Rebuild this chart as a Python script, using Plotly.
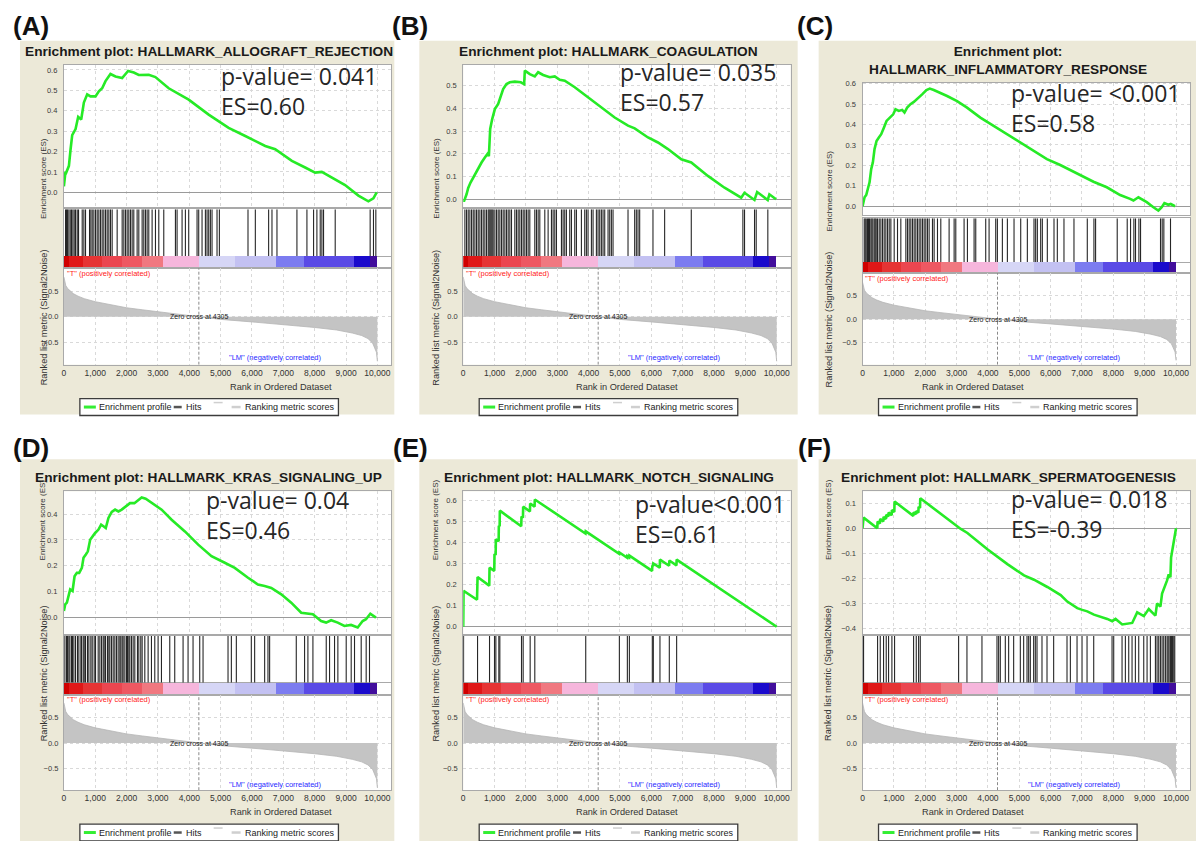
import plotly.graph_objects as go

# ---------------- data ----------------
# shared ranked-list metric (rank, Signal2Noise)
RANK_X = [0, 20, 60, 120, 200, 300, 450, 650, 1000, 1500, 2000, 2500, 3000, 3500, 4000,
          4305, 5000, 6000, 7000, 8000, 8700, 9000, 9200, 9500, 9700, 9850, 9930, 9970, 10000]
RANK_Y = [0.79, 0.70, 0.62, 0.56, 0.51, 0.46, 0.41, 0.36, 0.30, 0.24, 0.18, 0.14, 0.10, 0.065, 0.03,
          0.0, -0.05, -0.10, -0.15, -0.21, -0.26, -0.29, -0.32, -0.37, -0.43, -0.52, -0.62, -0.70, -0.88]
ZERO_CROSS = 4305

# colour band under the hits
BAR_EDGES = [0, 150, 600, 1200, 1850, 2500, 3150, 4300, 5450, 6750, 7650, 9250, 9750, 10000]
BAR_COLORS = ["#D00000", "#E01818", "#E63434", "#EB4650", "#EE5862", "#F07880",
              "#F6B6DC", "#D6D6F6", "#C3C1F2", "#7C7CF0", "#5A4AE6", "#1A0ACC", "#420E9C"]

X_TICKS = [0, 1000, 2000, 3000, 4000, 5000, 6000, 7000, 8000, 9000, 10000]
RANK_TICKS = [-0.5, 0.0, 0.5]

PANEL_LABELS = ["(A)", "(B)", "(C)", "(D)", "(E)", "(F)"]
TITLES = ["Enrichment plot: HALLMARK_ALLOGRAFT_REJECTION",
          "Enrichment plot: HALLMARK_COAGULATION",
          "Enrichment plot:<br>HALLMARK_INFLAMMATORY_RESPONSE",
          "Enrichment plot: HALLMARK_KRAS_SIGNALING_UP",
          "Enrichment plot: HALLMARK_NOTCH_SIGNALING",
          "Enrichment plot: HALLMARK_SPERMATOGENESIS"]
P_TEXTS = ["p-value= 0.041", "p-value= 0.035", "p-value= <0.001",
           "p-value= 0.04", "p-value<0.001", "p-value= 0.018"]
ES_TEXTS = ["ES=0.60", "ES=0.57", "ES=0.58", "ES=0.46", "ES=0.61", "ES=-0.39"]
LEGEND_NAMES = ["Enrichment profile", "Hits", "Ranking metric scores"]

ES_A_X = [0, 50, 74, 160, 212, 265, 372, 456, 552, 637, 743, 849, 1008, 1115, 1221, 1327, 1486, 1645,
          1858, 2049, 2229, 2389, 2707, 2919, 3344, 3981, 4618, 5255, 5786, 6423, 6741, 7272, 7696,
          8015, 8227, 8546, 8970, 9395, 9713, 9873, 9979]
ES_A_Y = [0.03, 0.10, 0.097, 0.13, 0.21, 0.28, 0.31, 0.37, 0.357, 0.44, 0.48, 0.47, 0.47, 0.495, 0.51,
          0.545, 0.58, 0.568, 0.56, 0.595, 0.587, 0.575, 0.576, 0.565, 0.51, 0.454, 0.381, 0.316, 0.276,
          0.227, 0.211, 0.154, 0.122, 0.097, 0.10, 0.073, 0.036, -0.016, -0.044, -0.029, 0.0]
HITS_A = [53, 85, 117, 159, 202, 244, 287, 329, 372, 425, 467, 584, 637, 690, 818, 860, 903, 956, 1009,
          1062, 1115, 1168, 1221, 1274, 1328, 1381, 1434, 1487, 1540, 1699, 1859, 1912, 1965, 2018, 2071,
          2124, 2177, 2230, 2336, 2390, 2496, 2549, 2602, 2655, 2708, 2814, 2921, 3027, 3186, 3558, 3611,
          3770, 3876, 3982, 4248, 4301, 4407, 4514, 4567, 4620, 4673, 4726, 4885, 4960, 5873, 6107, 6531,
          6638, 6797, 7434, 7753, 7965, 8071, 8177, 8230, 8283, 8655, 9770, 9876, 9951]

ES_B_X = [0, 20, 106, 159, 233, 318, 393, 478, 584, 690, 775, 818, 860, 924, 1009, 1115, 1200, 1274,
          1380, 1487, 1646, 1837, 1943, 1965, 2124, 2283, 2390, 2549, 2761, 2920, 3080, 3239, 3558, 3982,
          4407, 4832, 5257, 5470, 5894, 6212, 6531, 6956, 7274, 7805, 8336, 8867, 8973, 9291, 9376, 9713,
          9766, 9979]
ES_B_Y = [0.0, -0.01, 0.022, 0.05, 0.074, 0.096, 0.118, 0.14, 0.162, 0.184, 0.2, 0.19, 0.31, 0.353,
          0.397, 0.42, 0.456, 0.485, 0.507, 0.515, 0.518, 0.515, 0.507, 0.566, 0.551, 0.541, 0.559, 0.547,
          0.537, 0.541, 0.526, 0.522, 0.493, 0.449, 0.404, 0.36, 0.324, 0.312, 0.272, 0.25, 0.221, 0.176,
          0.162, 0.103, 0.051, 0.007, 0.029, -0.003, 0.032, -0.003, 0.022, 0.0]
HITS_B = [53, 106, 159, 212, 266, 319, 372, 425, 478, 531, 584, 637, 690, 743, 797, 828, 860, 892, 924,
          956, 1009, 1062, 1115, 1168, 1221, 1274, 1328, 1381, 1434, 1487, 1540, 1646, 1699, 1752, 1805,
          1859, 1912, 1965, 2018, 2071, 2124, 2283, 2336, 2390, 2443, 2602, 2708, 2814, 2867, 2921, 2974,
          3133, 3186, 3239, 3292, 3398, 3452, 3558, 3611, 3770, 3876, 3929, 3982, 4089, 4142, 4248, 4301,
          4354, 4407, 4460, 4514, 4620, 4673, 4726, 4779, 5257, 5469, 5522, 5576, 5629, 6053, 6425, 7275,
          8921, 8974, 9293, 9346, 9717]

ES_C_X = [0, 11, 64, 117, 170, 223, 276, 329, 382, 446, 520, 595, 680, 765, 871, 977, 1051, 1157, 1264,
          1338, 1423, 1529, 1635, 1794, 1900, 2038, 2144, 2272, 2484, 2696, 3015, 3333, 3758, 4183, 4607,
          5032, 5456, 5881, 6306, 6518, 6943, 7367, 7792, 8217, 8535, 8641, 8800, 9066, 9278, 9437, 9544,
          9629, 9756, 9830, 9968]
ES_C_Y = [0.0, 0.011, 0.044, 0.055, 0.093, 0.117, 0.182, 0.215, 0.28, 0.32, 0.337, 0.353, 0.385, 0.418,
          0.434, 0.45, 0.475, 0.467, 0.472, 0.459, 0.483, 0.5, 0.511, 0.532, 0.548, 0.569, 0.576, 0.569,
          0.556, 0.54, 0.515, 0.483, 0.434, 0.393, 0.353, 0.312, 0.272, 0.231, 0.202, 0.185, 0.15, 0.12,
          0.093, 0.055, 0.036, 0.028, 0.044, 0.02, -0.005, -0.021, -0.005, 0.015, 0.007, 0.011, 0.0]
HITS_C = [53, 85, 117, 159, 191, 223, 266, 297, 329, 372, 404, 435, 478, 531, 584, 637, 690, 743, 797,
          850, 903, 1009, 1115, 1221, 1381, 1434, 1487, 1540, 1593, 1646, 1699, 1752, 1805, 1859, 1912,
          1965, 2018, 2071, 2124, 2230, 2283, 2390, 2496, 2761, 2921, 2974, 3239, 3345, 3558, 3611, 3929,
          4036, 4248, 4301, 4460, 4620, 4832, 5045, 5257, 5469, 5522, 5576, 5682, 5735, 5894, 6107, 6213,
          6425, 6744, 7169, 7381, 7434, 8124, 8443, 8549, 8655, 8708, 8815, 8868, 9505, 9558, 9611, 9824]

ES_D_X = [0, 42, 95, 148, 201, 276, 340, 414, 488, 573, 626, 700, 764, 838, 912, 997, 1103, 1188, 1262,
          1336, 1421, 1527, 1633, 1739, 1845, 1972, 2110, 2248, 2375, 2481, 2609, 2800, 3118, 3436, 3860,
          4284, 4708, 5132, 5450, 5874, 6192, 6404, 6616, 6934, 7252, 7570, 7782, 7941, 8206, 8365, 8524,
          8736, 8948, 9160, 9372, 9531, 9637, 9775, 9955]
ES_D_Y = [0.026, 0.051, 0.058, 0.09, 0.109, 0.103, 0.16, 0.173, 0.173, 0.192, 0.231, 0.244, 0.256,
          0.301, 0.314, 0.327, 0.34, 0.359, 0.353, 0.346, 0.385, 0.408, 0.417, 0.41, 0.417, 0.429, 0.442,
          0.442, 0.455, 0.464, 0.459, 0.442, 0.417, 0.378, 0.333, 0.282, 0.237, 0.212, 0.192, 0.154, 0.128,
          0.122, 0.115, 0.09, 0.058, 0.019, 0.015, 0.013, -0.013, -0.019, -0.01, -0.019, -0.032, -0.028,
          -0.038, -0.013, -0.006, 0.015, 0.0]
HITS_D = [32, 85, 117, 159, 191, 244, 276, 319, 372, 435, 478, 542, 563, 616, 648, 690, 754, 797, 860,
          903, 966, 1009, 1094, 1147, 1200, 1253, 1285, 1328, 1391, 1434, 1466, 1519, 1572, 1625, 1678,
          1731, 1784, 1816, 1859, 1890, 1944, 1997, 2028, 2071, 2103, 2156, 2209, 2262, 2347, 2390, 2453,
          2496, 2581, 2687, 2793, 2899, 3005, 3112, 3377, 3536, 3802, 3961, 4120, 4333, 4439, 5236, 5342,
          5501, 5979, 6085, 6404, 6510, 6563, 7413, 7678, 7784, 7944, 8369, 8475, 8634, 8740, 9006, 9165,
          9271, 9484, 9643, 9749]

ES_E_X = [0, 11, 440, 457, 830, 839, 990, 998, 1035, 1041, 1130, 1136, 1162, 1168, 1850, 1859, 1905,
          1912, 2128, 2135, 2276, 2283, 3900, 3908, 4975, 4981, 5230, 5236, 5294, 5300, 6025, 6032, 6058,
          6064, 6270, 6276, 6568, 6574, 6802, 6808, 10000]
ES_E_Y = [0.0, 0.17, 0.128, 0.236, 0.195, 0.28, 0.265, 0.345, 0.34, 0.414, 0.405, 0.479, 0.476, 0.55,
          0.476, 0.522, 0.517, 0.569, 0.546, 0.584, 0.569, 0.603, 0.442, 0.452, 0.346, 0.352, 0.327, 0.335,
          0.329, 0.337, 0.265, 0.29, 0.287, 0.3, 0.28, 0.318, 0.289, 0.314, 0.291, 0.318, 0.0]
HITS_E = [11, 457, 839, 998, 1041, 1136, 1168, 1859, 1912, 2135, 2283, 3908, 4981, 5236, 5300, 6032,
          6064, 6276, 6574, 6808]

ES_F_X = [0, 32, 470, 479, 555, 564, 662, 670, 747, 755, 822, 830, 928, 936, 1013, 1021, 1620, 1628,
          1705, 1713, 1780, 1788, 1833, 1841, 3133, 3345, 3982, 4620, 5151, 5469, 5894, 6319, 6531, 6850,
          7009, 7168, 7381, 7593, 7806, 7965, 8071, 8284, 8443, 8602, 8761, 8973, 9130, 9342, 9395, 9502,
          9555, 9661, 9714, 9766, 9821, 9842, 9895, 9948, 10000]
ES_F_Y = [0.0, 0.042, 0.0, 0.026, 0.019, 0.037, 0.027, 0.045, 0.037, 0.053, 0.047, 0.062, 0.052, 0.072,
          0.065, 0.106, 0.049, 0.063, 0.056, 0.068, 0.062, 0.085, 0.081, 0.119, -0.003, -0.019, -0.084,
          -0.143, -0.188, -0.205, -0.234, -0.266, -0.292, -0.318, -0.325, -0.331, -0.344, -0.351, -0.361,
          -0.37, -0.361, -0.383, -0.379, -0.377, -0.335, -0.35, -0.322, -0.348, -0.299, -0.312, -0.26,
          -0.227, -0.208, -0.184, -0.195, -0.117, -0.078, -0.032, 0.0]
HITS_F = [32, 479, 564, 670, 755, 830, 936, 1021, 1628, 1713, 1788, 1841, 3064, 3330, 3809, 4288, 4341,
          4394, 4554, 4660, 4820, 5033, 5139, 5246, 5299, 5352, 5458, 5511, 5565, 5724, 5884, 6096, 6522,
          6629, 6842, 7001, 7161, 7374, 7959, 8012, 8278, 8384, 8491, 8597, 8703, 8810, 8970, 9076, 9182,
          9342, 9395, 9448, 9502, 9555, 9608, 9661, 9714, 9746, 9778, 9821, 9853, 9885, 9927, 9959]

ES_XS = [ES_A_X, ES_B_X, ES_C_X, ES_D_X, ES_E_X, ES_F_X]
ES_YS = [ES_A_Y, ES_B_Y, ES_C_Y, ES_D_Y, ES_E_Y, ES_F_Y]
HITS = [HITS_A, HITS_B, HITS_C, HITS_D, HITS_E, HITS_F]

# ---------------- layout (pixels) ----------------
W, H = 1198, 841
XMAX = 10446
COL_L = [62, 462, 862]
COL_R = [390, 790, 1190]
BEIGE_X = [(18, 393), (418, 797), (818, 1196)]
LABEL_X = [29, 409, 814]
TITLE_X = [207, 608, 1008]

ROW0 = dict(label_y=23, title_y=49, beige=(38, 413), es=(62, 205), hits=(207, 254, 266), rank=(266, 363),
            rank_range=(-0.947, 0.966), yshift=3)
ROW1 = dict(label_y=447, title_y=476, beige=(458, 860), es=(490, 633), hits=(635, 682, 694), rank=(694, 790),
            rank_range=(-0.927, 0.955), yshift=0)
GEOM = [
    dict(ROW0, col=0, es_range=(-0.073, 0.625), txt=(4970, 0.537, 0.43)),
    dict(ROW0, col=1, es_range=(-0.035, 0.592), txt=(4968, 0.526, 0.434)),
    dict(ROW0, col=2, title_y=57.5, es=(80, 213), hits=(216, 260, 271), rank=(271, 363),
         rank_range=(-0.97, 0.985), es_range=(-0.044, 0.605), txt=(4713, 0.507, 0.424)),
    dict(ROW1, col=0, es_range=(-0.062, 0.488), txt=(4490, 0.438, 0.354)),
    dict(ROW1, col=1, es_range=(-0.033, 0.642), txt=(5446, 0.558, 0.46)),
    dict(ROW1, col=2, es_range=(-0.42, 0.147), txt=(4713, 0.098, 0.016)),
]

SANS = "Liberation Sans, Arial, sans-serif"
FRAME = dict(showline=True, mirror=True, linecolor="#A9A9A9", linewidth=1)
GRID = dict(showgrid=True, gridcolor="#D9D9D9", griddash="dot", gridwidth=1)


def aid(k):
    return "" if k == 1 else str(k)


def pxx(x):
    return x / W


def pyy(y):
    return 1 - y / H


fig = go.Figure()
axes = {}
annotations = []
shapes = []

for i, g in enumerate(GEOM):
    c = g["col"]
    L, R = COL_L[c], COL_R[c]
    xd = [pxx(L), pxx(R)]
    ke, kh, kr = 3 * i + 1, 3 * i + 2, 3 * i + 3
    es_top, es_bot = g["es"]
    hit_top, bar_top, bar_bot = g["hits"]
    rk_top, rk_bot = g["rank"]
    b = (bar_bot - bar_top) / (bar_top - hit_top)

    # backgrounds
    bx0, bx1 = BEIGE_X[c]
    shapes.append(dict(type="rect", xref="paper", yref="paper", layer="below",
                       x0=pxx(bx0), x1=pxx(bx1), y0=pyy(g["beige"][1]), y1=pyy(g["beige"][0]),
                       fillcolor="#ECE9D8", line=dict(width=0)))
    shapes.append(dict(type="rect", xref="paper", yref="paper", layer="below",
                       x0=pxx(L), x1=pxx(R), y0=pyy(rk_bot), y1=pyy(es_top),
                       fillcolor="white", line=dict(width=0)))

    # axes
    axes["xaxis" + aid(ke)] = dict(domain=xd, range=[0, XMAX], anchor="y" + aid(ke), showticklabels=False,
                                   ticks="", tick0=0, dtick=1000, zeroline=False, **GRID, **FRAME)
    axes["yaxis" + aid(ke)] = dict(domain=[pyy(es_bot), pyy(es_top)], range=list(g["es_range"]),
                                   anchor="x" + aid(ke), tick0=0, dtick=0.1, tickformat=".1f",
                                   tickfont=dict(size=7.5, color="#3a3a3a", family=SANS),
                                   ticks="outside", ticklen=4, tickcolor="rgba(0,0,0,0)",
                                   zeroline=True, zerolinecolor="#9A9A9A", zerolinewidth=1, **GRID, **FRAME)
    axes["xaxis" + aid(kh)] = dict(domain=xd, range=[0, XMAX], anchor="y" + aid(kh), showticklabels=False,
                                   ticks="", showgrid=False, zeroline=False, **FRAME)
    axes["yaxis" + aid(kh)] = dict(domain=[pyy(bar_bot), pyy(hit_top)], range=[-b, 1], anchor="x" + aid(kh),
                                   showticklabels=False, ticks="", showgrid=False, zeroline=True,
                                   zerolinecolor="#A9A9A9", zerolinewidth=1, **FRAME)
    axes["xaxis" + aid(kr)] = dict(domain=xd, range=[0, XMAX], anchor="y" + aid(kr), tickvals=X_TICKS,
                                   tickformat=",d", tickfont=dict(size=8.5, color="#333", family=SANS),
                                   ticks="", zeroline=False, **GRID, **FRAME)
    axes["yaxis" + aid(kr)] = dict(domain=[pyy(rk_bot), pyy(rk_top)], range=list(g["rank_range"]),
                                   anchor="x" + aid(kr), tickvals=RANK_TICKS, tickformat=".1f",
                                   tickfont=dict(size=7.5, color="#3a3a3a", family=SANS),
                                   ticks="outside", ticklen=3, tickcolor="rgba(0,0,0,0)",
                                   zeroline=False, **GRID, **FRAME)

    # traces
    hx, hy = [], []
    for h in HITS[i]:
        hx += [h, h, None]
        hy += [0, 1, None]
    fig.add_trace(go.Scatter(x=hx, y=hy, mode="lines", line=dict(color="#262626", width=1.1),
                             xaxis="x" + aid(kh), yaxis="y" + aid(kh), showlegend=False, hoverinfo="skip"))
    centers = [(BAR_EDGES[j] + BAR_EDGES[j + 1]) / 2 for j in range(len(BAR_COLORS))]
    widths = [BAR_EDGES[j + 1] - BAR_EDGES[j] for j in range(len(BAR_COLORS))]
    fig.add_trace(go.Bar(x=centers, y=[b] * len(centers), base=[-b] * len(centers), width=widths,
                         marker=dict(color=BAR_COLORS, line=dict(width=0)),
                         xaxis="x" + aid(kh), yaxis="y" + aid(kh), showlegend=False, hoverinfo="skip"))
    fig.add_trace(go.Scatter(x=RANK_X, y=RANK_Y, mode="lines", fill="tozeroy", fillcolor="#C4C4C4",
                             line=dict(color="#B5B5B5", width=0.8),
                             xaxis="x" + aid(kr), yaxis="y" + aid(kr), showlegend=False, hoverinfo="skip"))
    fig.add_trace(go.Scatter(x=[ZERO_CROSS, ZERO_CROSS], y=list(g["rank_range"]), mode="lines",
                             line=dict(color="#8A8A8A", width=1, dash="3px,2px"),
                             xaxis="x" + aid(kr), yaxis="y" + aid(kr), showlegend=False, hoverinfo="skip"))
    fig.add_trace(go.Scatter(x=ES_XS[i], y=ES_YS[i], mode="lines", line=dict(color="#26EA26", width=2.6),
                             xaxis="x" + aid(ke), yaxis="y" + aid(ke), showlegend=False))

    # texts
    annotations.append(dict(text="<b>%s</b>" % PANEL_LABELS[i], x=pxx(LABEL_X[c]), y=pyy(g["label_y"]),
                            xref="paper", yref="paper", showarrow=False, xanchor="center", yanchor="middle",
                            font=dict(size=26, color="#111", family=SANS)))
    annotations.append(dict(text="<b>%s</b>" % TITLES[i], x=pxx(TITLE_X[c]), y=pyy(g["title_y"]),
                            xref="paper", yref="paper", showarrow=False, xanchor="center", yanchor="middle",
                            font=dict(size=13.7, color="#1a1a1a", family=SANS)))
    tx, tp, te = g["txt"]
    annotations.append(dict(text=P_TEXTS[i] + "<br>" + ES_TEXTS[i], x=tx, y=(tp + te) / 2, yshift=g["yshift"],
                            xref="x" + aid(ke), yref="y" + aid(ke), showarrow=False,
                            xanchor="left", yanchor="middle", align="left", borderpad=0,
                            font=dict(size=23, color="#262626", family="Open Sans")))
    annotations.append(dict(text="Enrichment score (ES)", x=pxx(L - 27), y=pyy((es_top + es_bot) / 2),
                            xref="paper", yref="paper", showarrow=False, textangle=-90,
                            font=dict(size=8, color="#333", family=SANS)))
    annotations.append(dict(text="Ranked list metric (Signal2Noise)", x=pxx(L - 27),
                            y=pyy((rk_top + rk_bot) / 2 + 1), xref="paper", yref="paper", showarrow=False,
                            textangle=-90, font=dict(size=9.2, color="#333", family=SANS)))
    annotations.append(dict(text="Rank in Ordered Dataset", x=pxx((L + R) / 2), y=pyy(rk_bot + 22),
                            xref="paper", yref="paper", showarrow=False, yanchor="middle",
                            font=dict(size=9.2, color="#333", family=SANS)))
    annotations.append(dict(text="Zero cross at %d" % ZERO_CROSS, x=ZERO_CROSS, y=0, xref="x" + aid(kr),
                            yref="y" + aid(kr), showarrow=False, xanchor="center", yanchor="middle",
                            font=dict(size=7, color="#222", family=SANS)))
    annotations.append(dict(text='"T" (positively correlated)', x=20, y=0.86, xref="x" + aid(kr),
                            yref="y" + aid(kr), showarrow=False, xanchor="left", yanchor="middle",
                            font=dict(size=7.5, color="#FF1A1A", family=SANS)))
    annotations.append(dict(text='"LM" (negatively correlated)', x=6750, y=-0.81, xref="x" + aid(kr),
                            yref="y" + aid(kr), showarrow=False, xanchor="center", yanchor="middle",
                            font=dict(size=7.5, color="#2A2AFF", family=SANS)))

    # legend box
    bl = L + 16
    bt = rk_bot + 34
    cy = bt + 8.5
    shapes.append(dict(type="rect", xref="paper", yref="paper", x0=pxx(bl), x1=pxx(bl + 259),
                       y0=pyy(bt + 17), y1=pyy(bt), fillcolor="white", line=dict(color="#3c3c3c", width=1.3)))
    for (a0, a1, col, wd) in ((4, 16, "#33EE33", 3), (94, 102, "#555555", 2.5), (152, 161, "#CFCFCF", 2.5)):
        shapes.append(dict(type="line", xref="paper", yref="paper", x0=pxx(bl + a0), x1=pxx(bl + a1),
                           y0=pyy(cy), y1=pyy(cy), line=dict(color=col, width=wd)))
    shapes.append(dict(type="line", xref="paper", yref="paper", x0=pxx(bl + 134), x1=pxx(bl + 143),
                       y0=pyy(bt + 4), y1=pyy(bt + 4), line=dict(color="#CFCFCF", width=1.5, dash="dash")))
    for name, off in zip(LEGEND_NAMES, (17, 104, 163)):
        annotations.append(dict(text=name, x=pxx(bl + off), y=pyy(cy), xref="paper", yref="paper",
                                showarrow=False, xanchor="left", yanchor="middle",
                                font=dict(size=9, color="#222", family=SANS)))

fig.update_layout(width=W, height=H, autosize=False, margin=dict(l=0, r=0, t=0, b=0),
                  paper_bgcolor="white", plot_bgcolor="rgba(0,0,0,0)", showlegend=False,
                  bargap=0, annotations=annotations, shapes=shapes, **axes)
fig.write_html("out.html")
